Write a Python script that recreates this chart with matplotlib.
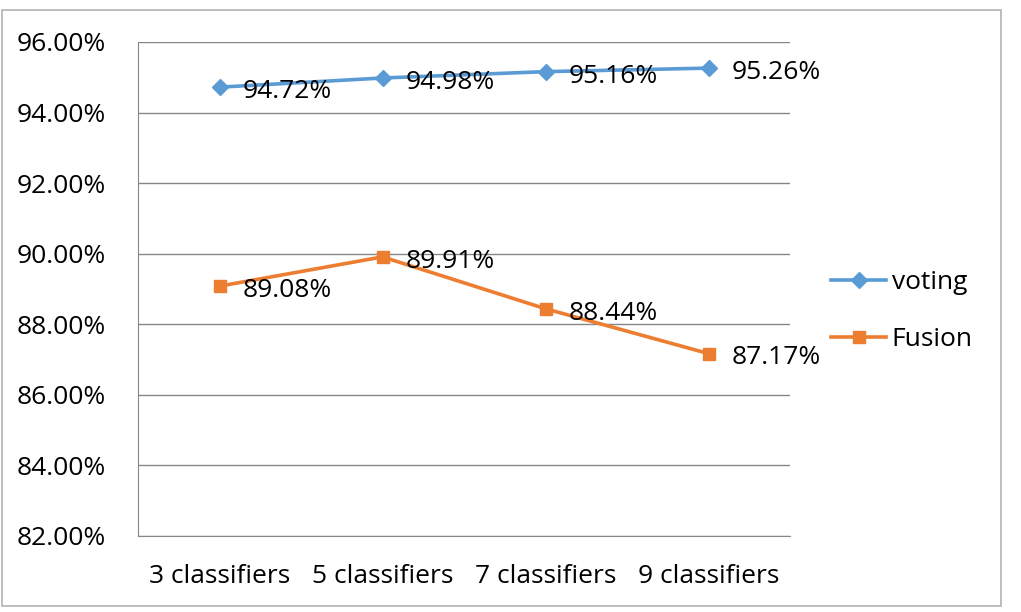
import matplotlib
matplotlib.use("Agg")
import matplotlib.pyplot as plt
from matplotlib.patches import Rectangle
from matplotlib.lines import Line2D

categories = ["3 classifiers", "5 classifiers", "7 classifiers", "9 classifiers"]
voting = [94.72, 94.98, 95.16, 95.26]
fusion = [89.08, 89.91, 88.44, 87.17]
yticks = [82, 84, 86, 88, 90, 92, 94, 96]

plt.rcParams['font.family'] = ['Open Sans', 'DejaVu Sans']
W, H = 1021, 612
FS = 19
fig = plt.figure(figsize=(W/100, H/100), dpi=100)
# outer border
fig.patches.append(Rectangle((2/W, 1-606/H), (1001-2)/W, (606-10)/H, transform=fig.transFigure,
                             fill=False, edgecolor='#b3b3b3', linewidth=1.2))
ax = fig.add_axes([138/W, 1-536/H, (790-138)/W, (536-42)/H])
x = [i + 0.5 for i in range(len(categories))]
blue = '#5B9BD5'
orange = '#ED7D31'
ax.plot(x, voting, color=blue, lw=2.6, marker='D', ms=8, label='voting', solid_capstyle='round')
ax.plot(x, fusion, color=orange, lw=2.6, marker='s', ms=9, label='Fusion', solid_capstyle='round')
for series in (voting, fusion):
    for xi, v in zip(x, series):
        ax.annotate(f"{v:.2f}%", (xi, v), xytext=(17, -1), textcoords='offset points',
                    ha='left', va='center_baseline', fontsize=FS, color='black')
ax.set_xlim(0, 4)
ax.set_ylim(82, 96)
ax.set_yticks(yticks)
ax.set_yticklabels([f"{t:.2f}%" for t in yticks], fontsize=FS)
ax.set_xticks(x)
ax.set_xticklabels(categories, fontsize=FS)
ax.tick_params(axis='x', length=0, pad=20)
ax.tick_params(axis='y', length=0, pad=23)
ax.grid(axis='y', color='#868686', linewidth=1)
ax.set_axisbelow(True)
for s in ['top', 'right']:
    ax.spines[s].set_visible(False)
ax.spines['left'].set_color('#868686')
ax.spines['bottom'].set_color('#868686')
handles = [Line2D([], [], color=blue, lw=2.6, marker='D', ms=8),
           Line2D([], [], color=orange, lw=2.6, marker='s', ms=9)]
fig.legend(handles, ['voting', 'Fusion'], loc='center left', bbox_to_anchor=(831/W, 1-311/H),
           frameon=False, fontsize=FS, handlelength=2.1, handletextpad=0.2, labelspacing=1.2,
           borderpad=0, borderaxespad=0)
fig.savefig("out.png", dpi=100)
